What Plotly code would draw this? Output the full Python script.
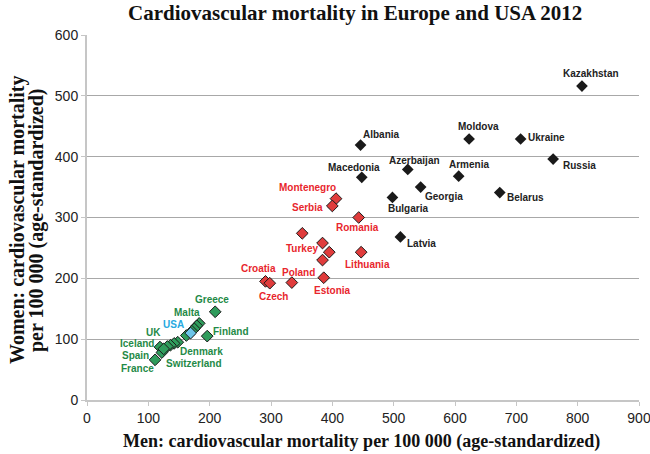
import plotly.graph_objects as go

# ---- data (men, women CVD mortality per 100 000) ----
black_names = ["Kazakhstan", "Albania", "Moldova", "Ukraine", "Russia", "Macedonia",
               "Azerbaijan", "Armenia", "Georgia", "Belarus", "Bulgaria", "Latvia"]
black_men = [807, 446, 623, 707, 760, 448, 523, 606, 544, 673, 498, 511]
black_women = [516, 419, 429, 429, 396, 366, 379, 368, 350, 341, 333, 268]

red_names = ["Montenegro", "Serbia", "Romania", "", "Turkey", "", "", "Lithuania",
             "Estonia", "Poland", "Croatia", "Czech"]
red_men = [406, 400, 443, 351, 384, 395, 384, 447, 386, 334, 291, 298]
red_women = [331, 319, 300, 274, 258, 243, 230, 243, 201, 193, 195, 192]

green_names = ["Greece", "Finland", "Malta", "", "", "", "", "UK", "Denmark",
               "Switzerland", "", "Iceland", "Spain", "France"]
green_men = [209, 196, 183, 179, 175, 171, 162, 148, 142, 136, 131, 119, 122, 111]
green_women = [145, 105, 126, 122, 117, 113, 106, 95, 93, 90, 88, 87, 78, 66]
green_extra_men = [125]
green_extra_women = [84]

usa_men = [169]
usa_women = [110]

x_ticks = [0, 100, 200, 300, 400, 500, 600, 700, 800, 900]
y_ticks = [0, 100, 200, 300, 400, 500, 600]

title_text = "Cardiovascular mortality in Europe and USA 2012"
x_title = "Men: cardiovascular mortality per 100 000 (age-standardized)"
y_title_lines = ["Women: cardiovascular mortality", "per 100 000 (age-standardized)"]

# label offsets in pixels (dx right, dy down)
black_off = [(9, -13), (21, -11), (9, -13), (26, -2), (26, 6), (-8, -10),
             (7, -9), (10, -12), (23, 9), (26, 5), (16, 11), (21, 7)]
red_off = [(-29, -11), (-25, 2), (-1, 10), (0, 0), (-21, 5), (0, 0), (0, 0), (6, 12),
           (9, 13), (7, -10), (-7, -13), (4, 13)]
green_off = [(-3, -12), (24, -5), (-12, -11), (0, 0), (0, 0), (0, 0), (0, 0), (-24, -10),
             (27, 8), (24, 18), (0, 0), (-23, -4), (-26, 3), (-18, 9)]

BLACK = "#1a1a1a"
RED_FILL = "#e03c3c"
RED_TXT = "#e8262d"
GREEN_FILL = "#2f9c5c"
GREEN_TXT = "#1f8a47"
BLUE = "#6cc4e8"
BLUE_TXT = "#27a9e1"
LABEL_FONT = "Liberation Sans"
SERIF = "Liberation Serif"

W, H = 650, 454
L, T = 87, 35
R = W - 639
B = H - 400
PW, PH = W - L - R, H - T - B


def px_x(p):
    return (p - L) / PW


def px_y(p):
    return 1 - (p - T) / PH


fig = go.Figure()

fig.add_trace(go.Scatter(
    x=green_men + green_extra_men, y=green_women + green_extra_women, mode="markers",
    marker=dict(symbol="diamond", size=9, color=GREEN_FILL, line=dict(color="#1a1a1a", width=1)),
    hoverinfo="skip", showlegend=False))
fig.add_trace(go.Scatter(
    x=usa_men, y=usa_women, mode="markers",
    marker=dict(symbol="diamond", size=9, color=BLUE, line=dict(color="#1a1a1a", width=1)),
    hoverinfo="skip", showlegend=False))
fig.add_trace(go.Scatter(
    x=red_men, y=red_women, mode="markers",
    marker=dict(symbol="diamond", size=9, color=RED_FILL, line=dict(color="#1a1a1a", width=1)),
    hoverinfo="skip", showlegend=False))
fig.add_trace(go.Scatter(
    x=black_men, y=black_women, mode="markers",
    marker=dict(symbol="diamond", size=9, color=BLACK, line=dict(color=BLACK, width=0)),
    hoverinfo="skip", showlegend=False))

annotations = []


def add_labels(names, xs, ys, offs, color):
    for n, x, y, (dx, dy) in zip(names, xs, ys, offs):
        if not n:
            continue
        annotations.append(dict(
            x=x, y=y, xref="x", yref="y", text="<b>" + n + "</b>", showarrow=False,
            xshift=dx, yshift=-dy, xanchor="center", yanchor="middle",
            font=dict(family=LABEL_FONT, size=10, color=color)))


add_labels(black_names, black_men, black_women, black_off, "#222222")
add_labels(red_names, red_men, red_women, red_off, RED_TXT)
add_labels(green_names, green_men, green_women, green_off, GREEN_TXT)
add_labels(["USA"], usa_men, usa_women, [(-17, -9)], BLUE_TXT)

# y-axis title (two rotated lines)
for line, px in zip(y_title_lines, [17, 36]):
    annotations.append(dict(
        x=px_x(px), y=px_y(220), xref="paper", yref="paper", text="<b>" + line + "</b>",
        textangle=-90, showarrow=False, xanchor="center", yanchor="middle",
        font=dict(family=SERIF, size=20, color="#111111")))

# x-axis title
annotations.append(dict(
    x=px_x(361), y=px_y(441), xref="paper", yref="paper",
    text="<b>" + x_title + "</b>", showarrow=False, xanchor="center", yanchor="middle",
    font=dict(family=SERIF, size=18, color="#111111")))

# chart title
annotations.append(dict(
    x=px_x(355), y=px_y(13), xref="paper", yref="paper",
    text="<b>" + title_text + "</b>", showarrow=False, xanchor="center", yanchor="middle",
    font=dict(family=SERIF, size=21, color="#111111")))

fig.update_layout(
    width=W, height=H,
    margin=dict(l=L, r=R, t=T, b=B, autoexpand=False),
    paper_bgcolor="white", plot_bgcolor="white",
    annotations=annotations,
    xaxis=dict(range=[0, 900], tickvals=x_ticks, showgrid=False, zeroline=False,
               showline=True, linecolor="#c6c6c6", linewidth=2, automargin=False,
               ticks="outside", ticklen=4, tickcolor="#c6c6c6",
               ticklabeloverflow="allow",
               tickfont=dict(family="Liberation Sans", size=14, color="#222222")),
    yaxis=dict(range=[0, 600], tickvals=y_ticks, showgrid=True, gridcolor="#a8a8a8",
               gridwidth=1, zeroline=False, automargin=False,
               showline=True, linecolor="#c6c6c6", linewidth=2,
               ticks="outside", ticklen=4, tickcolor="#c6c6c6",
               ticklabeloverflow="allow",
               tickfont=dict(family="Liberation Sans", size=14, color="#222222")),
)

fig.write_html("out.html", config={"displayModeBar": False},
               post_script="document.body.style.margin='0px';document.body.style.overflow='hidden';")
